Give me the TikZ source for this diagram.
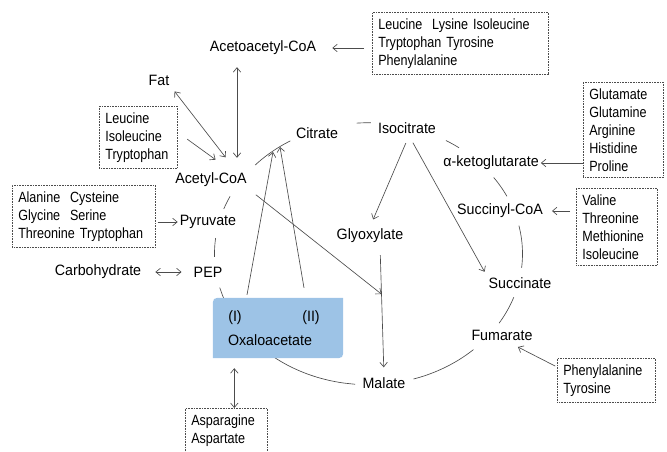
\documentclass[tikz,border=0pt]{standalone}
\usepackage{fontspec}
\setmainfont{Liberation Sans}
\newfontfamily\lblfont[FakeStretch=0.95]{Liberation Sans}
\newfontfamily\boxfont[FakeStretch=0.85]{Liberation Sans}
\usetikzlibrary{arrows.meta,calc}
\definecolor{oxablue}{RGB}{157,195,230}

\begin{document}
\begin{tikzpicture}[x=1pt, y=-1pt,
    lbl/.style={font=\lblfont\fontsize{15}{17}\selectfont, inner sep=2pt},
    aalist/.style={draw=black!70, densely dotted, line width=0.6pt, anchor=north west,
      align=left, inner xsep=6pt, inner ysep=6pt, font=\boxfont\fontsize{14.8}{18}\selectfont},
    fl/.style={draw=black!70, line width=0.65pt},
    >={Straight Barb[length=4.5pt,width=7.5pt]}]
  \useasboundingbox (0,0) rectangle (667,452);

  % Cycle (arcs d'ellipse entre les etiquettes)
  \foreach \a/\b in {200/206, 222.6/239.5, 265.6/270.9, 300.2/306, 324.4/334,
                     347.6/366.2, 19.4/32, 47/73, 95/165, 178.6/186.9}
    \draw[fl] plot[domain=\a:\b, samples=16, smooth]
      ({368.5+154*cos(\x)}, {253.75+131*sin(\x)});

  % Oxaloacetate
  \node[minimum width=130pt, minimum height=60pt, inner sep=0pt] (oxa) at (278,328) {};
  \fill[oxablue] (oxa.south west) -- ([yshift=-10pt]oxa.north west)
    .. controls (oxa.north west) .. ([xshift=10pt]oxa.north west) -- (oxa.north east)
    -- ([yshift=10pt]oxa.south east) .. controls (oxa.south east) .. ([xshift=-10pt]oxa.south east)
    -- cycle;
  \node[lbl] (oxI) at (235,318) {(I)};
  \node[lbl] (oxII) at (311,318) {(II)};
  \node[lbl] (oxtxt) at (270,340) {Oxaloacetate};

  % Etiquettes
  \node[lbl] (acac) at (263,48) {Acetoacetyl-CoA};
  \node[lbl] (fat) at (159,80) {Fat};
  \node[lbl] (acetyl) at (211,180) {Acetyl-CoA};
  \node[lbl] (pyr) at (208,222) {Pyruvate};
  \node[lbl] (pep) at (208,272) {PEP};
  \node[lbl] (carb) at (98,272) {Carbohydrate};
  \node[lbl] (citrate) at (317,133) {Citrate};
  \node[lbl] (isocit) at (407,128) {Isocitrate};
  \node[lbl] (akg) at (491,163) {α-ketoglutarate};
  \node[lbl] (succoa) at (500,211) {Succinyl-CoA};
  \node[lbl] (succ) at (520,283) {Succinate};
  \node[lbl] (fum) at (502,335) {Fumarate};
  \node[lbl] (malate) at (384,383) {Malate};
  \node[lbl] (glyox) at (370,236) {Glyoxylate};

  % Acides amines
  \node[aalist, text width=164pt] (topbox) at (372,12) {Leucine\ \ Lysine Isoleucine\\Tryptophan Tyrosine\\Phenylalanine};
  \node[aalist, text width=66pt] (leubox) at (99,106) {Leucine\\Isoleucine\\Tryptophan};
  \node[aalist, text width=131pt] (alabox) at (12,185) {Alanine\ \ Cysteine\\Glycine\ \ Serine\\Threonine Tryptophan};
  \node[aalist, text width=68pt] (glubox) at (583,82) {Glutamate\\Glutamine\\Arginine\\Histidine\\Proline};
  \node[aalist, text width=69pt] (valbox) at (576,188) {Valine\\Threonine\\Methionine\\Isoleucine};
  \node[aalist, text width=86pt] (phebox) at (557,358) {Phenylalanine\\Tyrosine};
  \node[aalist, text width=70pt] (asnbox) at (185,408) {Asparagine\\Aspartate};

  % Points d'arrivee
  \coordinate (oxaI) at ([xshift=-31pt, yshift=3pt]oxa.north);
  \coordinate (oxaII) at ([xshift=26pt, yshift=10pt]oxa.north);
  \coordinate (citI) at (273,152);
  \coordinate (citII) at (280,147);
  \coordinate (gTop) at ([xshift=10pt]glyox.south);
  \coordinate (gm) at ($(gTop)!0.376!(malate.north)$);
  \coordinate (asnTop) at ([xshift=8pt]asnbox.north);

  % Fleches
  \draw[fl, ->, shorten <=8pt, shorten >=14pt] (topbox.west |- acac) -- (acac);
  \draw[fl, <->, shorten <=10pt, shorten >=13pt] ([xshift=-26pt]acac.south) -- ([xshift=26pt]acetyl.north);
  \draw[fl, <->, shorten <=5pt, shorten >=17pt] (fat.south east) -- ([xshift=25pt]acetyl.north);
  \draw[fl, ->, shorten <=12pt, shorten >=19pt] ([yshift=5pt]leubox.east) -- ([xshift=20pt]acetyl.north);
  \draw[fl, ->, shorten <=2pt] (alabox.east |- pyr) -- (pyr);
  \draw[fl, <->, shorten <=12pt, shorten >=10pt] (carb) -- (pep);
  \draw[fl, <->, shorten <=10pt] (asnTop |- oxa.south) -- (asnTop);
  \draw[fl, ->] (oxaI) -- (citI);
  \draw[fl, ->] (oxaII) -- (citII);
  \draw[fl, ->, shorten <=9pt] (acetyl.south east) -- (gm);
  \draw[fl, ->, shorten <=10pt, shorten >=8pt] (gTop) -- (malate.north);
  \draw[fl, ->, shorten <=8pt, shorten >=8pt] ([xshift=2pt]isocit.south) -- (glyox.north);
  \draw[fl, ->, shorten <=8pt, shorten >=4pt] ([xshift=2pt]isocit.south) -- (succ.north west);
  \draw[fl, ->] (glubox.west |- akg) -- (akg);
  \draw[fl, ->, shorten <=6pt, shorten >=7pt] (valbox.west |- succoa) -- (succoa);
  \draw[fl, ->, shorten <=2pt, shorten >=10pt] ([yshift=-9pt]phebox.north west) -- ([xshift=7pt]fum.south);
\end{tikzpicture}
\end{document}
